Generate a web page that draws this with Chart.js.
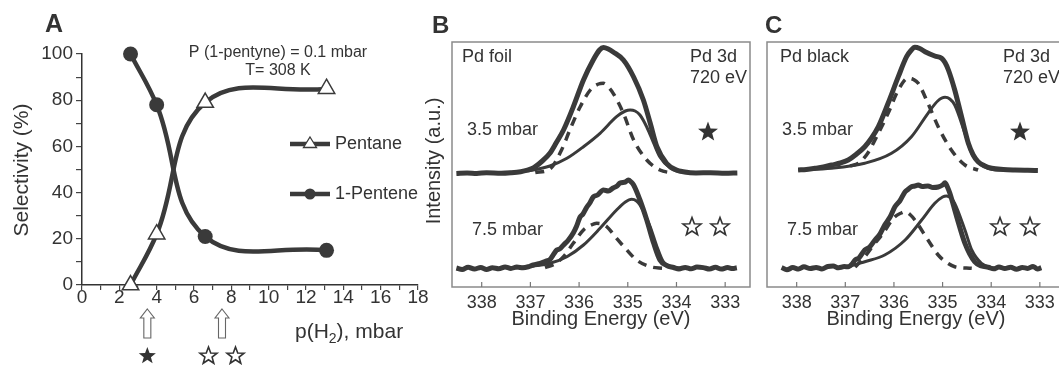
<!DOCTYPE html>
<html>
<head>
<meta charset="utf-8">
<script src="https://cdn.jsdelivr.net/npm/chart.js@4.4.0/dist/chart.umd.min.js"></script>
<style>
  html, body { margin: 0; padding: 0; background: #fff; overflow: hidden; width: 1059px; height: 365px; position: relative; }
  canvas { position: absolute; top: 0; }
</style>
</head>
<body>
<canvas id="chartA" width="430" height="365" style="left:0px"></canvas>
<canvas id="chartB" width="340" height="365" style="left:420px"></canvas>
<canvas id="chartC" width="345" height="365" style="left:735px"></canvas>
<script>
// ---- Panel A: selectivity vs p(H2)
const pentaneP = [2.6, 4.0, 6.6, 13.1];
const pentaneSel = [0, 22, 79, 85];
const penteneP = [2.6, 4.0, 6.6, 13.1];
const penteneSel = [100, 78, 21, 15];
const pressureTicks = [0,1,2,3,4,5,6,7,8,9,10,11,12,13,14,15,16,17,18];
const selectivityTicks = [0,10,20,30,40,50,60,70,80,90,100];
const arrowPressures = [3.5, 7.5];

// ---- Panels B, C: Pd 3d spectra, [binding energy, intensity]
const energyTicks = [338, 337, 336, 335, 334, 333];

const foil35Env = [[338.52,113.5],[338.3,114],[338.1,113.6],[337.9,114.2],[337.6,113.8],[337.4,114.3],[337.2,115.3],[337.06,116.8],[336.94,119],[336.78,125],[336.6,133.7],[336.46,145],[336.32,157],[336.12,180],[335.91,207],[335.71,227],[335.58,237],[335.5,239.5],[335.4,238],[335.3,235],[335.09,227],[334.88,210],[334.68,187],[334.54,164],[334.4,140],[334.2,123.5],[334.0,117],[333.86,115.3],[333.6,114],[333.3,114.3],[333.0,113.7],[332.75,114]];
const foil35Bulk = [[337.9,114],[337.3,115],[336.94,117],[336.6,121],[336.25,128.7],[335.91,140.3],[335.57,153.7],[335.23,170.3],[335.05,176],[334.95,177],[334.85,176],[334.75,172],[334.61,160],[334.47,144],[334.34,130],[334.13,119],[333.86,114.5],[333.5,113.8]];
const foil35Surf = [[336.9,114.5],[336.6,118],[336.36,137],[336.19,157],[335.98,180],[335.77,197],[335.6,203],[335.5,203.7],[335.4,200],[335.3,193.7],[335.09,173.7],[334.88,147],[334.61,127],[334.34,117],[334.1,114]];

const foil75Env = [[338.52,19],[338.4,17.5],[338.28,19.8],[338.15,18],[338.02,19.5],[337.9,17.6],[337.78,19.2],[337.65,18.3],[337.52,20],[337.4,18.6],[337.28,19.9],[337.15,19.2],[337.02,20.6],[336.94,22],[336.8,23.5],[336.68,26],[336.6,27.5],[336.52,33],[336.46,37],[336.4,38],[336.32,42],[336.22,47],[336.12,54],[336.05,61],[335.98,70],[335.92,73],[335.84,80],[335.78,84],[335.71,90],[335.62,92],[335.5,97],[335.4,96],[335.3,99],[335.22,101],[335.16,104],[335.05,105],[334.99,107],[334.93,105],[334.88,102],[334.75,87],[334.61,67],[334.47,44],[334.34,27],[334.2,21.5],[334.06,19.5],[333.95,18],[333.82,19.6],[333.7,18.2],[333.58,20],[333.45,19.4],[333.32,18],[333.2,19.7],[333.08,17.9],[332.95,19.5],[332.85,18.4],[332.76,19.2]];
const foil75Bulk = [[337.3,19],[336.94,21],[336.6,23.7],[336.25,30.3],[335.91,42],[335.57,58.7],[335.23,77],[335.05,85],[334.92,87.7],[334.82,86],[334.75,82],[334.54,60.3],[334.4,40.3],[334.27,25.3],[334.06,19.7],[333.8,18.7]];
const foil75Surf = [[336.7,19.5],[336.5,23],[336.32,30.3],[336.12,43.7],[335.91,57],[335.75,62],[335.64,63.7],[335.53,63],[335.43,60.3],[335.23,48.7],[335.02,37],[334.82,27],[334.54,20.3],[334.27,18.7]];

const black35Env = [[337.97,117],[337.8,117.6],[337.62,118.7],[337.45,120],[337.28,122],[337.1,124],[336.94,127],[336.78,132.5],[336.6,140.3],[336.46,149],[336.32,160.3],[336.12,183.7],[335.91,210.3],[335.74,230.3],[335.65,236.5],[335.57,239.7],[335.47,238.5],[335.36,235.3],[335.16,231],[335.02,228.7],[334.95,224.5],[334.88,217],[334.75,197],[334.61,170.3],[334.47,143.7],[334.37,132],[334.27,125.3],[334.13,121],[333.99,118.7],[333.75,117.5],[333.51,117],[333.25,116.7],[333.04,116.5]];
const black35Bulk = [[337.97,117],[337.28,118.7],[336.6,123.7],[336.05,133.7],[335.64,150.3],[335.3,173.7],[335.1,186],[334.95,189.7],[334.85,188],[334.75,182],[334.54,153.7],[334.4,133.7],[334.2,122],[333.86,117],[333.5,116.8]];
const black35Surf = [[336.9,121],[336.73,123.7],[336.55,133],[336.39,147],[336.12,173.7],[335.91,197],[335.71,208.7],[335.6,207.5],[335.5,203.7],[335.3,183.7],[335.09,160.3],[334.82,137],[334.54,122],[334.27,117]];

const black75Env = [[338.31,19.5],[338.2,17.2],[338.08,19.4],[337.96,18],[337.85,20.2],[337.72,18.4],[337.6,19.6],[337.48,18.1],[337.36,20.5],[337.25,21],[337.14,19.2],[337.02,20.4],[336.94,20.3],[336.86,23],[336.8,27],[336.72,29],[336.6,37],[336.5,40],[336.39,47],[336.3,52],[336.19,62],[336.08,70],[335.98,80.3],[335.88,86],[335.77,95.3],[335.7,98],[335.64,100.3],[335.57,101],[335.5,102],[335.42,100.5],[335.3,101],[335.2,99.5],[335.09,100],[335.0,102],[334.95,104.3],[334.9,100],[334.85,93.7],[334.71,70.3],[334.54,43.7],[334.34,25.3],[334.2,21],[334.06,19.7],[333.95,18.2],[333.84,20],[333.72,18.5],[333.6,19.8],[333.48,17.8],[333.36,19.5],[333.25,18.6],[333.14,20.6],[333.05,18],[332.97,19.4]];
const black75Bulk = [[337.1,19],[336.94,20.3],[336.6,25.3],[336.19,32],[335.77,47],[335.43,67],[335.16,83.7],[335.0,90],[334.92,91],[334.83,89],[334.75,83.7],[334.54,57],[334.4,37],[334.2,23.7],[333.93,18.7]];
const black75Surf = [[336.8,20],[336.6,30.3],[336.42,42],[336.25,52],[335.98,70.3],[335.85,74],[335.77,75.3],[335.67,72.5],[335.57,67],[335.3,47],[335.09,32],[334.9,24],[334.75,20.3],[334.4,18.7]];

const ink = '#333';
const curve = '#3a3a3a';
const fontFam = '"Liberation Sans", Arial, sans-serif';
Chart.defaults.font.family = fontFam;
Chart.defaults.color = ink;

function star(ctx, x, y, R, filled) {
  ctx.beginPath();
  for (let i = 0; i < 10; i++) {
    const a = -Math.PI / 2 + i * Math.PI / 5;
    const r = i % 2 === 0 ? R : R * 0.42;
    ctx.lineTo(x + r * Math.cos(a), y + r * Math.sin(a));
  }
  ctx.closePath();
  if (filled) { ctx.fillStyle = ink; ctx.fill(); }
  else { ctx.fillStyle = '#fff'; ctx.fill(); ctx.strokeStyle = ink; ctx.lineWidth = 1.6; ctx.stroke(); }
}

function upArrow(ctx, x, top) {
  ctx.beginPath();
  ctx.moveTo(x, top);
  ctx.lineTo(x + 7, top + 9);
  ctx.lineTo(x + 3.5, top + 9);
  ctx.lineTo(x + 3.5, top + 29);
  ctx.lineTo(x - 3.5, top + 29);
  ctx.lineTo(x - 3.5, top + 9);
  ctx.lineTo(x - 7, top + 9);
  ctx.closePath();
  ctx.fillStyle = '#fff';
  ctx.fill();
  ctx.strokeStyle = '#666';
  ctx.lineWidth = 1.1;
  ctx.stroke();
}

function text(ctx, str, x, y, size, align, bold) {
  ctx.font = (bold ? 'bold ' : '') + size + 'px ' + fontFam;
  ctx.fillStyle = ink;
  ctx.textAlign = align || 'left';
  ctx.textBaseline = 'middle';
  ctx.fillText(str, x, y);
}

// ---- Panel A
const panelADecor = {
  id: 'panelADecor',
  afterDraw(chart) {
    const ctx = chart.ctx;
    const xs = chart.scales.x;
    ctx.save();
    text(ctx, 'A', 45, 25, 25, 'left', true);
    text(ctx, 'P (1-pentyne) = 0.1 mbar', 278, 53, 16, 'center');
    text(ctx, 'T= 308 K', 278, 71, 16, 'center');

    // legend
    ctx.strokeStyle = curve; ctx.lineWidth = 4.5;
    ctx.beginPath(); ctx.moveTo(290, 144); ctx.lineTo(330, 144); ctx.stroke();
    ctx.beginPath(); ctx.moveTo(290, 194); ctx.lineTo(330, 194); ctx.stroke();
    ctx.beginPath();
    ctx.moveTo(310, 137); ctx.lineTo(316.5, 147.5); ctx.lineTo(303.5, 147.5); ctx.closePath();
    ctx.fillStyle = '#fff'; ctx.fill(); ctx.lineWidth = 1.3; ctx.stroke();
    ctx.beginPath(); ctx.arc(310, 194, 5.5, 0, Math.PI * 2); ctx.fillStyle = curve; ctx.fill();
    text(ctx, 'Pentane', 335, 144, 18);
    text(ctx, '1-Pentene', 335, 194, 18);

    // axis titles
    ctx.save();
    ctx.translate(22, 170); ctx.rotate(-Math.PI / 2);
    text(ctx, 'Selectivity (%)', 0, 0, 21, 'center');
    ctx.restore();
    ctx.font = '21px ' + fontFam;
    ctx.textAlign = 'left'; ctx.textBaseline = 'alphabetic'; ctx.fillStyle = ink;
    let tx = 295;
    ctx.fillText('p(H', tx, 338); tx += ctx.measureText('p(H').width;
    ctx.font = '14px ' + fontFam;
    ctx.fillText('2', tx, 343); tx += ctx.measureText('2').width;
    ctx.font = '21px ' + fontFam;
    ctx.fillText('), mbar', tx, 338);

    // arrows and stars for the spectra pressures
    const ax = arrowPressures.map(p => xs.getPixelForValue(p));
    ax.forEach(x => upArrow(ctx, x, 309));
    star(ctx, ax[0], 356, 9, true);
    star(ctx, ax[1] - 13.5, 356, 9, false);
    star(ctx, ax[1] + 13.5, 356, 9, false);
    ctx.restore();
  }
};

new Chart(document.getElementById('chartA'), {
  type: 'line',
  data: {
    datasets: [
      {
        label: 'Pentane',
        data: pentaneP.map((p, i) => ({ x: p, y: pentaneSel[i] })),
        borderColor: curve, borderWidth: 4.5, tension: 0.4,
        pointStyle: 'triangle', pointRadius: 9.5,
        pointBackgroundColor: '#fff', pointBorderColor: curve, pointBorderWidth: 1.5,
        clip: false
      },
      {
        label: '1-Pentene',
        data: penteneP.map((p, i) => ({ x: p, y: penteneSel[i] })),
        borderColor: curve, borderWidth: 4.5, tension: 0.4,
        pointStyle: 'circle', pointRadius: 7.5,
        pointBackgroundColor: curve, pointBorderColor: curve, pointBorderWidth: 0,
        clip: false
      }
    ]
  },
  options: {
    responsive: false,
    animation: false,
    devicePixelRatio: 1,
    layout: { padding: { left: 0, top: 54, right: 12, bottom: 0 } },
    plugins: { legend: { display: false }, tooltip: { enabled: false } },
    scales: {
      x: {
        type: 'linear', min: 0, max: 18,
        afterBuildTicks: s => { s.ticks = pressureTicks.map(v => ({ value: v })); },
        afterFit: s => { s.height = 80; s.paddingLeft = 0; s.paddingRight = 0; },
        ticks: { autoSkip: false, maxRotation: 0, padding: -4, font: { size: 19 }, color: ink,
                 callback: v => (v % 2 === 0 ? v : '') },
        grid: { drawOnChartArea: false, tickLength: 5, color: '#444', lineWidth: 1.2 },
        border: { color: '#333', width: 1.5 }
      },
      y: {
        min: 0, max: 100,
        afterBuildTicks: s => { s.ticks = selectivityTicks.map(v => ({ value: v })); },
        afterFit: s => { s.width = 82; s.paddingTop = 0; s.paddingBottom = 0; },
        ticks: { autoSkip: false, padding: 3, font: { size: 19 }, color: ink,
                 callback: v => (v % 20 === 0 ? v : '') },
        grid: { drawOnChartArea: false, tickLength: 6, color: '#444', lineWidth: 1.2 },
        border: { color: '#333', width: 1.5 }
      }
    }
  },
  plugins: [panelADecor]
});

// ---- Panels B and C
function spectrumDecor(cfg) {
  return {
    id: 'decor' + cfg.letter,
    beforeDatasetsDraw(chart) {
      const { ctx, chartArea: a } = chart;
      ctx.save();
      ctx.strokeStyle = '#8a8a8a'; ctx.lineWidth = 1.5;
      ctx.strokeRect(a.left, a.top, a.right - a.left, a.bottom - a.top);
      const xs = chart.scales.x;
      ctx.strokeStyle = '#777'; ctx.lineWidth = 1.2;
      energyTicks.forEach(v => {
        const x = xs.getPixelForValue(v);
        ctx.beginPath(); ctx.moveTo(x, a.bottom); ctx.lineTo(x, a.bottom - 5); ctx.stroke();
      });
      ctx.restore();
    },
    afterDraw(chart) {
      const ctx = chart.ctx;
      ctx.save();
      text(ctx, cfg.letter, cfg.letterX, 26, 24, 'left', true);
      if (cfg.yTitle) {
        ctx.save();
        ctx.translate(14, 161); ctx.rotate(-Math.PI / 2);
        text(ctx, 'Intensity (a.u.)', 0, 0, 20, 'center');
        ctx.restore();
      }
      text(ctx, cfg.sample, cfg.sampleX, 57, 18);
      text(ctx, 'Pd 3d', cfg.pdX, 57, 18);
      text(ctx, '720 eV', cfg.pdX, 78, 18);
      text(ctx, '3.5 mbar', 47, 130, 18);
      text(ctx, '7.5 mbar', 52, 230, 18);
      text(ctx, 'Binding Energy (eV)', 181, 319, 20, 'center');
      star(ctx, cfg.starX, 132, 10.5, true);
      star(ctx, cfg.hollowX[0], 227, 9.5, false);
      star(ctx, cfg.hollowX[1], 227, 9.5, false);
      ctx.restore();
    }
  };
}

function line(pairs, width, dash) {
  return {
    data: pairs.map(p => ({ x: p[0], y: p[1] })),
    borderColor: curve, borderWidth: width, borderDash: dash || [],
    cubicInterpolationMode: 'monotone', pointRadius: 0, fill: false
  };
}

function spectrumChart(id, sets, xMax, padRight, cfg) {
  return new Chart(document.getElementById(id), {
    type: 'line',
    data: {
      datasets: [
        line(sets[2], 3.5, [9, 7]), line(sets[1], 3), line(sets[0], 5),
        line(sets[5], 3.5, [9, 7]), line(sets[4], 3), line(sets[3], 5)
      ]
    },
    options: {
      responsive: false,
      animation: false,
      devicePixelRatio: 1,
      layout: { padding: { left: 32, top: 42, right: padRight, bottom: 0 } },
      plugins: { legend: { display: false }, tooltip: { enabled: false } },
      scales: {
        x: {
          type: 'linear', reverse: true, min: xMax, max: 338.61,
          afterBuildTicks: s => { s.ticks = energyTicks.map(v => ({ value: v })); },
          afterFit: s => { s.height = 78; s.paddingLeft = 0; s.paddingRight = 0; },
          ticks: { autoSkip: false, maxRotation: 0, padding: 5, font: { size: 18 }, color: ink },
          grid: { display: false, drawTicks: false },
          border: { display: false }
        },
        y: { display: false, min: 0, max: 245 }
      }
    },
    plugins: [spectrumDecor(cfg)]
  });
}

spectrumChart('chartB',
  [foil35Env, foil35Bulk, foil35Surf, foil75Env, foil75Bulk, foil75Surf],
  332.49, 10,
  { letter: 'B', letterX: 12, yTitle: true, sample: 'Pd foil', sampleX: 42, pdX: 270,
    starX: 288, hollowX: [272, 300] });

spectrumChart('chartC',
  [black35Env, black35Bulk, black35Surf, black75Env, black75Bulk, black75Surf],
  332.38, 10,
  { letter: 'C', letterX: 30, yTitle: false, sample: 'Pd black', sampleX: 45, pdX: 268,
    starX: 285, hollowX: [265, 295] });
</script>
</body>
</html>
